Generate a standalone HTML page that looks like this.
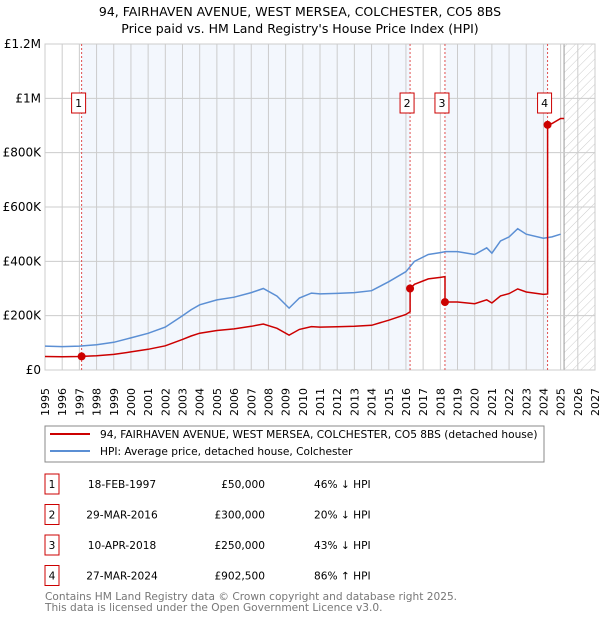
<!DOCTYPE html>
<html><head><meta charset="utf-8"><style>
body{margin:0;background:#fff;font-family:"Liberation Sans","DejaVu Sans",sans-serif;}
svg text{font-family:"DejaVu Sans","Liberation Sans",sans-serif;}
</style></head><body>
<svg id="c" width="600" height="620" viewBox="0 0 600 620">
<defs><pattern id="hatch" width="6" height="6" patternUnits="userSpaceOnUse" patternTransform="rotate(45)"><line x1="0" y1="0" x2="0" y2="6" stroke="#ccc" stroke-width="1"/></pattern></defs>
<text x="300" y="16" text-anchor="middle" font-size="12.5">94, FAIRHAVEN AVENUE, WEST MERSEA, COLCHESTER, CO5 8BS</text>
<text x="300" y="33" text-anchor="middle" font-size="12.5">Price paid vs. HM Land Registry's House Price Index (HPI)</text>
<g id="plot"></g>
<rect x="45" y="426" width="499" height="36" fill="#fff" stroke="#888"/>
<line x1="50" y1="434" x2="90" y2="434" stroke="#cc0000" stroke-width="2"/>
<text x="100" y="438" font-size="10.6">94, FAIRHAVEN AVENUE, WEST MERSEA, COLCHESTER, CO5 8BS (detached house)</text>
<line x1="50" y1="451" x2="90" y2="451" stroke="#5b8fd4" stroke-width="2"/>
<text x="100" y="455" font-size="10.6">HPI: Average price, detached house, Colchester</text>
<g id="tbl" font-size="10.6"></g>
<text x="45" y="600" font-size="10.6" fill="#777">Contains HM Land Registry data © Crown copyright and database right 2025.</text>
<text x="45" y="611" font-size="10.6" fill="#777">This data is licensed under the Open Government Licence v3.0.</text>
</svg>
<script>
const hpiYears=[1995,1996,1997,1998,1999,2000,2001,2002,2003,2003.5,2004,2005,2006,2007,2007.7,2008.5,2009.2,2009.8,2010.5,2011,2012,2013,2014,2015,2016,2016.5,2017.3,2018,2018.3,2019,2020,2020.7,2021,2021.5,2022,2022.5,2023,2024,2024.5,2025];
const hpiValues=[88000,86000,88000,93000,102000,118000,135000,158000,200000,222000,240000,258000,268000,285000,300000,272000,228000,265000,283000,280000,282000,285000,292000,325000,362000,400000,425000,432000,436000,436000,425000,450000,430000,475000,490000,520000,500000,485000,490000,500000];
const saleYears=[1997.13,2016.24,2018.27,2024.24];
const salePrices=[50000,300000,250000,902500];
const saleLabels=["1","2","3","4"];
const saleDates=["18-FEB-1997","29-MAR-2016","10-APR-2018","27-MAR-2024"];
const salePriceText=["£50,000","£300,000","£250,000","£902,500"];
const saleHpiText=["46% ↓ HPI","20% ↓ HPI","43% ↓ HPI","86% ↑ HPI"];
const yTicks=[0,200000,400000,600000,800000,1000000,1200000];
const yTickLabels=["£0","£200K","£400K","£600K","£800K","£1M","£1.2M"];
const xTicks=[1995,1996,1997,1998,1999,2000,2001,2002,2003,2004,2005,2006,2007,2008,2009,2010,2011,2012,2013,2014,2015,2016,2017,2018,2019,2020,2021,2022,2023,2024,2025,2026,2027];

const L=45,R=595,T=44,B=370;
const X=y=>L+(y-1995)/(2027-1995)*(R-L);
const Y=v=>B-v/1200000*(B-T);
const NS="http://www.w3.org/2000/svg";
const g=document.getElementById('plot');
function mk(t,a,p){const e=document.createElementNS(NS,t);for(const k in a)e.setAttribute(k,a[k]);(p||g).appendChild(e);return e;}
function hpiAt(y){for(let i=0;i<hpiYears.length-1;i++){if(y<=hpiYears[i+1]){const f=(y-hpiYears[i])/(hpiYears[i+1]-hpiYears[i]);return hpiValues[i]+f*(hpiValues[i+1]-hpiValues[i]);}}return hpiValues[hpiValues.length-1];}
let bands=[[saleYears[0],saleYears[1]],[saleYears[2],saleYears[3]]];
bands.forEach((b,i)=>{const r=mk('rect',{x:X(b[0]),y:T,width:X(b[1])-X(b[0]),height:B-T,fill:'#eef3fc',opacity:0.7});

});
const hx=X(2025.2);
const h=mk('rect',{x:hx,y:T,width:R-hx,height:B-T,fill:'url(#hatch)'});


mk('line',{x1:hx,y1:T,x2:hx,y2:B,stroke:'#999'});
xTicks.forEach((t,i)=>{const x=X(t);
mk('line',{x1:x,y1:T,x2:x,y2:B,stroke:'#ccc','stroke-width':1});
const tx=mk('text',{x:x,y:B+18,dx:-14,dy:4,'text-anchor':'middle','font-size':11,transform:`rotate(-90 ${x} ${B+18})`});
tx.textContent=t;

});
yTicks.forEach((t,i)=>{const y=Y(t);
mk('line',{x1:L,y1:y,x2:R,y2:y,stroke:'#ccc','stroke-width':1});
const tx=mk('text',{x:L-4,y:y+4,'text-anchor':'end','font-size':12});tx.textContent=yTickLabels[i];

});
mk('rect',{x:L,y:T,width:R-L,height:B-T,fill:'none',stroke:'#ccc'});
saleYears.forEach((s,i)=>{const x=X(s);
const ln=mk('line',{x1:x,y1:T,x2:x,y2:B,stroke:'#e05050','stroke-dasharray':'2,2','stroke-width':1});

});
let d='';hpiYears.forEach((y,i)=>{d+=(i?'L':'M')+X(y).toFixed(1)+','+Y(hpiValues[i]).toFixed(1);});
const hp=mk('path',{d:d,fill:'none',stroke:'#5b8fd4','stroke-width':1.5});


let pts=[];const endY=2025.2;
const ratios=saleYears.map((s,i)=>salePrices[i]/hpiAt(s));
function addSeg(a,b,r){const ys=[a].concat(hpiYears.filter(y=>y>a&&y<b),[b]);ys.forEach(y=>pts.push([y,hpiAt(y)*r]));}
addSeg(1995,saleYears[0],ratios[0]);
for(let i=0;i<4;i++)addSeg(saleYears[i],i<3?saleYears[i+1]:endY,ratios[i]);
d='';pts.forEach((p,i)=>{d+=(i?'L':'M')+X(p[0]).toFixed(1)+','+Y(p[1]).toFixed(1);});
const pp=mk('path',{d:d,fill:'none',stroke:'#cc0000','stroke-width':1.5});


saleYears.forEach((s,i)=>{const c=mk('circle',{cx:X(s),cy:Y(salePrices[i]),r:4,fill:'#cc0000'});


const r=mk('rect',{x:X(s)-10,y:93,width:14,height:20,fill:'#fff',stroke:'#cc0000'});


const t=mk('text',{x:X(s)-3,y:107,'text-anchor':'middle','font-size':11});t.textContent=saleLabels[i];

});
const tb=document.getElementById('tbl');
saleYears.forEach((s,i)=>{const y=484+i*30.5;
const r=mk('rect',{x:45,y:y-10,width:14,height:20,fill:'#fff',stroke:'#cc0000'},tb);


const cells=[[52,'middle',saleLabels[i]],[122,'middle',saleDates[i]],[265,'end',salePriceText[i]],[314,'start',saleHpiText[i]]];
cells.forEach(c=>{const t=mk('text',{x:c[0],y:y+4,'text-anchor':c[1],'font-size':10.6},tb);t.textContent=c[2];

});});
</script>
</body></html>
